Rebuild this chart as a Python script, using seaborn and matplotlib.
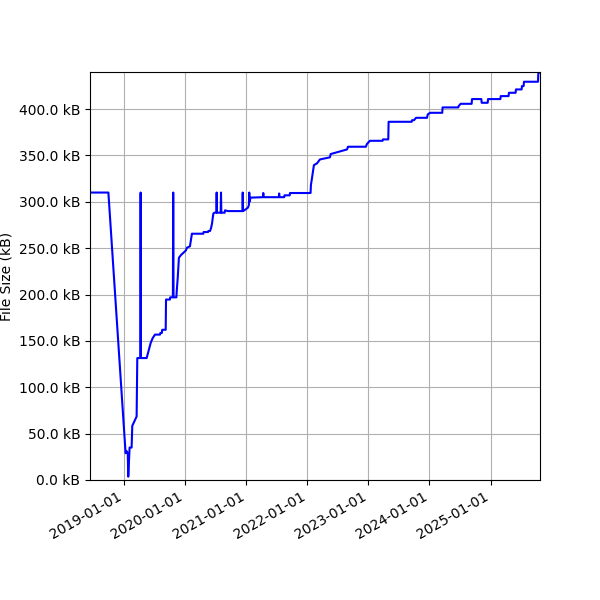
import pandas as pd
import seaborn as sns
import matplotlib
matplotlib.use("Agg")
import matplotlib.pyplot as plt
import matplotlib.dates as mdates
from matplotlib.ticker import FuncFormatter

# История размера файла (даты и размеры в кБ)
dates = [
    "2018-06-10", "2018-09-28", "2019-01-09", "2019-01-16", "2019-01-22", "2019-01-25",
    "2019-02-02", "2019-02-14", "2019-02-18", "2019-03-16", "2019-03-20", "2019-04-07",
    "2019-04-09", "2019-04-11", "2019-05-15", "2019-06-08", "2019-06-20", "2019-07-04",
    "2019-08-03", "2019-08-05", "2019-08-14", "2019-08-16", "2019-09-06", "2019-09-08",
    "2019-10-01", "2019-10-03", "2019-10-19", "2019-10-21", "2019-10-23", "2019-11-09",
    "2019-11-11", "2019-11-17", "2019-11-24", "2019-12-06", "2020-01-05", "2020-01-11",
    "2020-01-29", "2020-02-10", "2020-04-18", "2020-04-20", "2020-05-16", "2020-05-18",
    "2020-05-28", "2020-06-03", "2020-06-09", "2020-06-17", "2020-06-23", "2020-07-05",
    "2020-07-07", "2020-07-09", "2020-07-31", "2020-08-02", "2020-08-04", "2020-08-24",
    "2020-08-26", "2020-09-13", "2020-12-08", "2020-12-10", "2020-12-12", "2020-12-29",
    "2021-01-10", "2021-01-16", "2021-01-18", "2021-01-20", "2021-01-26", "2021-04-10",
    "2021-04-12", "2021-04-14", "2021-07-14", "2021-07-16", "2021-07-18", "2021-08-15",
    "2021-08-17", "2021-09-17", "2021-09-19", "2022-01-20", "2022-01-22", "2022-01-28",
    "2022-02-09", "2022-02-27", "2022-03-17", "2022-05-16", "2022-05-20", "2022-08-26",
    "2022-09-01", "2022-12-17", "2022-12-23", "2023-01-10", "2023-03-27", "2023-03-29",
    "2023-04-30", "2023-05-02", "2023-09-17", "2023-09-19", "2023-10-01", "2023-10-13",
    "2023-12-18", "2023-12-22", "2024-01-05", "2024-03-18", "2024-03-20", "2024-06-22",
    "2024-06-24", "2024-07-06", "2024-09-10", "2024-09-12", "2024-11-07", "2024-11-09",
    "2024-12-15", "2024-12-17", "2025-03-01", "2025-03-03", "2025-04-19", "2025-04-21",
    "2025-05-31", "2025-06-02", "2025-07-06", "2025-07-08", "2025-07-18", "2025-07-20",
    "2025-10-12", "2025-10-14", "2025-10-24",
]
sizes_kb = [
    310, 310, 28.9, 31, 28, 3.6,
    35, 35, 58.4, 68.5, 131.5, 131.5,
    310, 131.5, 131.5, 147.7, 153, 156.8,
    156.8, 158.6, 158.6, 162, 162, 194.6,
    194.6, 197, 197, 310, 197, 197,
    203.6, 218, 239.6, 242.5, 247.6, 250.5,
    252, 265.6, 265.6, 267.4, 267.4, 268.5,
    268.5, 271.4, 276.4, 287.2, 288.3, 288.3,
    310, 288.3, 288.3, 310, 288.3, 288.3,
    290.8, 290, 290, 310, 290, 292,
    293.7, 296.5, 310, 300, 304.5, 305,
    309.5, 305, 305, 309, 305, 305,
    307, 307, 309.5, 309.5, 318, 325,
    339.6, 341.4, 345.7, 348, 351.5, 356.5,
    359.4, 359.4, 362.3, 365.8, 365.8, 367.3,
    367.3, 386.3, 386.3, 388, 388, 390.6,
    390.6, 394.2, 396, 396, 401.8, 401.8,
    403.2, 405.7, 405.7, 410.8, 410.8, 406.8,
    406.8, 410.8, 410.8, 414, 414, 417.6,
    417.6, 421.2, 421.2, 424.8, 424.8, 429.5,
    429.5, 438.5, 440,
]

df = pd.DataFrame({"date": pd.to_datetime(dates), "size": sizes_kb})

fig, ax = plt.subplots(figsize=(6, 6), dpi=100)
sns.lineplot(x="date", y="size", data=df, color="blue", linewidth=1.5, ax=ax)

ax.set_xlim(df["date"].min(), df["date"].max())
ax.set_ylim(0, df["size"].max())
ax.xaxis.set_major_locator(mdates.YearLocator())
ax.xaxis.set_major_formatter(mdates.DateFormatter("%Y-%m-%d"))
ax.yaxis.set_major_formatter(FuncFormatter(lambda v, p: f"{v:.1f} kB"))
ax.set_xlabel("")
ax.set_ylabel("File Size (kB)")
ax.grid(True)

fig.autofmt_xdate()
fig.subplots_adjust(left=0.15, right=0.9, top=0.88, bottom=0.2)
fig.savefig("out.png", dpi=100)
